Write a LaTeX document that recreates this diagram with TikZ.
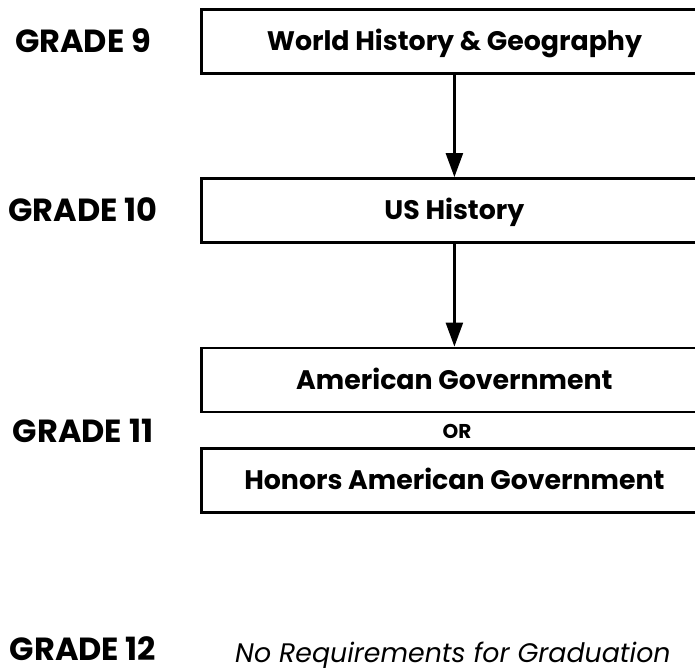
\documentclass[tikz,border=0pt]{standalone}
\usepackage{fontspec}
\setmainfont{Poppins}
\usetikzlibrary{arrows.meta,positioning}

\begin{document}
\begin{tikzpicture}[
  x=1pt, y=-1pt,
  >={Triangle[length=24pt,width=17pt]},
  gradeLabel/.style={font=\fontsize{32}{32}\selectfont\bfseries, anchor=base, inner sep=0pt},
  course/.style={draw, line width=2.8pt, anchor=west, minimum width=506pt, minimum height=64pt, inner sep=0pt,
    text height=18.5pt, text depth=0pt, font=\fontsize{26.8}{26.8}\selectfont\bfseries},
  orLabel/.style={font=\fontsize{20}{20}\selectfont\bfseries, anchor=base, inner sep=0pt},
  note/.style={font=\fontsize{26.8}{26.8}\selectfont\itshape, anchor=base west, inner sep=0pt},
  arrow/.style={->, line width=2.4pt},
]
\useasboundingbox (0,0) rectangle (695,668);
\clip (0,0) rectangle (695,668);

% --- grade labels ---
\node[gradeLabel] (g9)  at (83,53)  {GRADE 9};
\node[gradeLabel] (g10) at (83,222) {GRADE 10};
\node[gradeLabel] (g11) at (83,442) {GRADE 11};
\node[gradeLabel] (g12) at (83,660) {GRADE 12};

% --- course boxes ---
\node[course] (world) at (200,41.5) {World History \& Geography};
\node[course] (ushist) at (200,210.5) {US History};
\node[course] (amgov) at (200,380) {American Government};
\node[orLabel] (orlbl) at (457,438) {OR};
\node[course] (hongov) at (200,480.5) {Honors American Government};

\node[note] (noreq) at (235,662) {No Requirements for Graduation};

% connectors
\draw[arrow] (world) -- (ushist);
\draw[arrow] (ushist) -- (amgov);
\end{tikzpicture}
\end{document}
